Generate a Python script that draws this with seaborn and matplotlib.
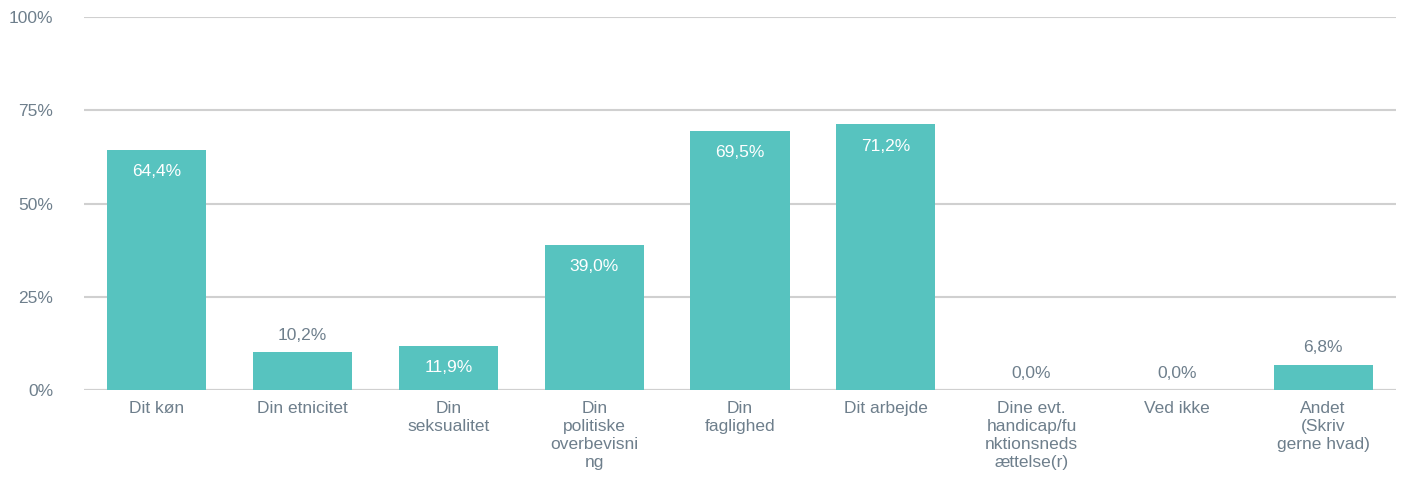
import matplotlib.pyplot as plt
import seaborn as sns
import pandas as pd

categories = ["Dit køn", "Din etnicitet", "Din\nseksualitet", "Din\npolitiske\noverbevisni\nng",
              "Din\nfaglighed", "Dit arbejde", "Dine evt.\nhandicap/fu\nnktionsneds\nættelse(r)",
              "Ved ikke", "Andet\n(Skriv\ngerne hvad)"]
values = [64.4, 10.2, 11.9, 39.0, 69.5, 71.2, 0.0, 0.0, 6.8]
y_ticks = [0, 25, 50, 75, 100]

BAR = "#57C3BF"
TXT = "#6E7F8C"
GRID = "#D0D0D0"
FS = 12.5

sns.set_theme(style="white")
plt.rcParams['font.family'] = ['Liberation Sans', 'DejaVu Sans']

df = pd.DataFrame({"cat": categories, "val": values})

fig = plt.figure(figsize=(14.04, 4.84), dpi=100)
ax = fig.add_axes([0.0598, 0.194, 0.9345, 0.771])

sns.barplot(data=df, x="cat", y="val", color=BAR, width=0.68, saturation=1,
            linewidth=0, ax=ax, zorder=3)

ax.set_ylim(0, 100)
ax.set_yticks(y_ticks)
ax.set_yticklabels([f"{t}%" for t in y_ticks], color=TXT, fontsize=FS)
ax.yaxis.grid(True, color=GRID, linewidth=1.5, zorder=0)
ax.set_axisbelow(True)
ax.tick_params(axis="y", length=0, pad=22)
ax.tick_params(axis="x", length=0, pad=8)
for lbl in ax.get_xticklabels():
    lbl.set_color(TXT)
    lbl.set_fontsize(FS)
    lbl.set_verticalalignment("top")
    lbl.set_linespacing(1.25)
ax.set_xlabel("")
ax.set_ylabel("")
for s in ax.spines.values():
    s.set_visible(False)
ax.axhline(0, color=GRID, linewidth=1.5, zorder=1)

for i, v in enumerate(values):
    label = f"{v:.1f}%".replace(".", ",")
    if v > 11:
        ax.text(i, v - 3.8, label, ha="center", va="top", color="white", fontsize=FS, zorder=4)
    else:
        ax.text(i, v + 2.5, label, ha="center", va="bottom", color=TXT, fontsize=FS, zorder=4)

ax.set_xlim(-0.5, len(values) - 0.5)

fig.savefig("out.png", dpi=100)
